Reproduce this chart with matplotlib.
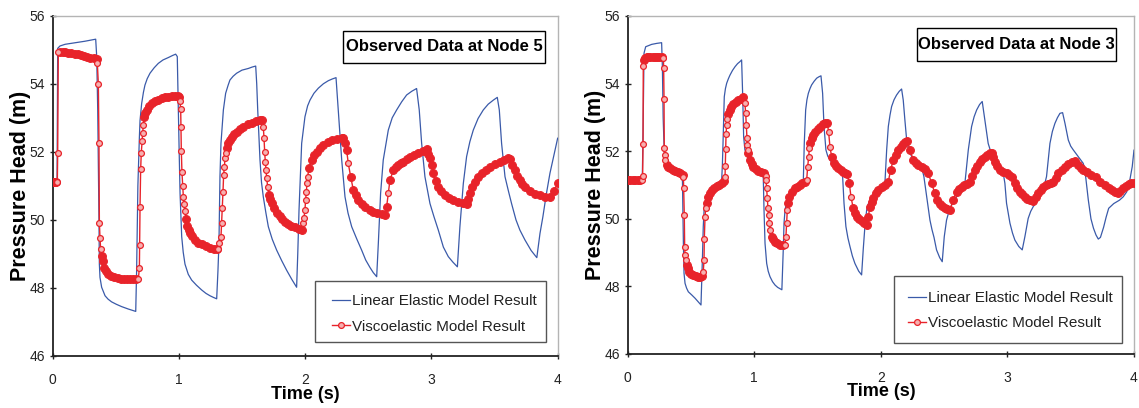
import numpy as np
import matplotlib
matplotlib.use('Agg')
import matplotlib.pyplot as plt
from matplotlib import font_manager
from matplotlib.lines import Line2D
from matplotlib.patches import Rectangle, Shadow

# (time s, head m) pairs for each model run
node5_linear = [
    (0.000, 51.10), (0.036, 51.10), (0.041, 55.04), (0.059, 55.11), (0.100, 55.16), (0.152, 55.19),
    (0.205, 55.22), (0.257, 55.25), (0.300, 55.28), (0.342, 55.31), (0.350, 54.80), (0.358, 53.23),
    (0.368, 50.00), (0.371, 48.70), (0.376, 48.31), (0.389, 48.02), (0.416, 47.77), (0.440, 47.67),
    (0.468, 47.59), (0.505, 47.52), (0.548, 47.45), (0.600, 47.38), (0.659, 47.31), (0.666, 48.50),
    (0.676, 51.00), (0.688, 52.44), (0.693, 52.92), (0.706, 53.42), (0.720, 53.75), (0.732, 53.96),
    (0.750, 54.15), (0.772, 54.31), (0.805, 54.47), (0.838, 54.60), (0.875, 54.70), (0.917, 54.77),
    (0.950, 54.83), (0.975, 54.87), (0.988, 54.80), (0.996, 53.23), (1.003, 52.00), (1.010, 50.78),
    (1.023, 49.51), (1.035, 49.05), (1.049, 48.70), (1.075, 48.40), (1.102, 48.23), (1.140, 48.08),
    (1.181, 47.94), (1.215, 47.84), (1.247, 47.77), (1.275, 47.72), (1.300, 47.68), (1.310, 48.50),
    (1.318, 49.31), (1.326, 51.27), (1.334, 52.25), (1.353, 53.23), (1.371, 53.72), (1.390, 53.95),
    (1.405, 54.11), (1.430, 54.22), (1.458, 54.31), (1.500, 54.40), (1.551, 54.45), (1.580, 54.49),
    (1.609, 54.52), (1.617, 54.00), (1.625, 53.23), (1.643, 51.76), (1.655, 51.10), (1.669, 50.68),
    (1.690, 50.20), (1.709, 49.80), (1.740, 49.43), (1.775, 49.11), (1.815, 48.80), (1.854, 48.52),
    (1.895, 48.25), (1.933, 48.02), (1.942, 49.00), (1.952, 50.29), (1.973, 52.25), (1.999, 53.03),
    (2.020, 53.35), (2.039, 53.52), (2.070, 53.72), (2.105, 53.87), (2.145, 54.00), (2.184, 54.09),
    (2.215, 54.14), (2.245, 54.18), (2.263, 53.23), (2.290, 51.76), (2.316, 50.68), (2.340, 50.20),
    (2.369, 49.80), (2.408, 49.45), (2.448, 49.11), (2.480, 48.82), (2.514, 48.60), (2.540, 48.45),
    (2.567, 48.33), (2.580, 49.31), (2.598, 50.78), (2.619, 51.76), (2.659, 52.64), (2.690, 53.00),
    (2.725, 53.23), (2.765, 53.47), (2.804, 53.67), (2.845, 53.78), (2.883, 53.86), (2.904, 53.23),
    (2.923, 52.25), (2.949, 51.27), (2.989, 50.48), (3.020, 50.10), (3.055, 49.70), (3.095, 49.20),
    (3.134, 48.92), (3.170, 48.76), (3.206, 48.62), (3.226, 49.80), (3.253, 51.07), (3.279, 51.86),
    (3.305, 52.30), (3.332, 52.64), (3.370, 52.98), (3.411, 53.23), (3.450, 53.40), (3.491, 53.52),
    (3.522, 53.60), (3.538, 53.23), (3.556, 52.25), (3.583, 51.27), (3.610, 50.85), (3.635, 50.48),
    (3.670, 50.00), (3.701, 49.70), (3.741, 49.41), (3.790, 49.10), (3.835, 48.89), (3.860, 49.60),
    (3.883, 50.09), (3.910, 50.75), (3.939, 51.37), (3.970, 51.90), (4.000, 52.40),
]

node5_visco = [
    (0.000, 51.10), (0.010, 51.10), (0.020, 51.10), (0.030, 51.10), (0.038, 51.10), (0.041, 51.96),
    (0.046, 54.94), (0.060, 54.94), (0.080, 54.93), (0.100, 54.92), (0.125, 54.91), (0.150, 54.90),
    (0.175, 54.88), (0.200, 54.86), (0.225, 54.85), (0.250, 54.83), (0.275, 54.80), (0.300, 54.77),
    (0.325, 54.75), (0.350, 54.72), (0.355, 54.60), (0.363, 53.99), (0.368, 52.25), (0.371, 49.92),
    (0.376, 49.48), (0.381, 49.15), (0.389, 48.95), (0.397, 48.80), (0.410, 48.60), (0.425, 48.50),
    (0.442, 48.41), (0.465, 48.35), (0.490, 48.31), (0.515, 48.29), (0.540, 48.27), (0.565, 48.26),
    (0.590, 48.26), (0.615, 48.25), (0.640, 48.25), (0.660, 48.25), (0.680, 48.26), (0.688, 48.60),
    (0.690, 49.27), (0.693, 50.38), (0.698, 51.49), (0.703, 51.97), (0.709, 52.31), (0.714, 52.55),
    (0.719, 52.79), (0.727, 53.01), (0.735, 53.13), (0.746, 53.23), (0.765, 53.34), (0.785, 53.42),
    (0.810, 53.48), (0.835, 53.53), (0.864, 53.57), (0.890, 53.60), (0.915, 53.62), (0.943, 53.64),
    (0.970, 53.64), (0.990, 53.63), (1.004, 53.60), (1.009, 53.50), (1.015, 53.25), (1.017, 52.72),
    (1.020, 52.03), (1.025, 51.40), (1.031, 51.00), (1.036, 50.68), (1.041, 50.47), (1.049, 50.25),
    (1.057, 50.02), (1.067, 49.82), (1.078, 49.70), (1.089, 49.61), (1.105, 49.52), (1.128, 49.41),
    (1.155, 49.33), (1.181, 49.28), (1.215, 49.22), (1.247, 49.18), (1.275, 49.15), (1.300, 49.13),
    (1.313, 49.13), (1.318, 49.31), (1.334, 49.50), (1.339, 49.90), (1.345, 50.34), (1.350, 50.83),
    (1.355, 51.32), (1.361, 51.56), (1.366, 51.81), (1.371, 51.96), (1.379, 52.10), (1.392, 52.25),
    (1.405, 52.35), (1.418, 52.44), (1.438, 52.52), (1.458, 52.59), (1.485, 52.67), (1.511, 52.74),
    (1.545, 52.81), (1.577, 52.86), (1.610, 52.90), (1.643, 52.94), (1.656, 52.94), (1.669, 52.74),
    (1.675, 52.40), (1.680, 52.00), (1.685, 51.71), (1.691, 51.47), (1.696, 51.22), (1.704, 50.97),
    (1.714, 50.73), (1.725, 50.60), (1.735, 50.49), (1.755, 50.34), (1.775, 50.21), (1.800, 50.10),
    (1.820, 50.02), (1.841, 49.95), (1.865, 49.87), (1.890, 49.81), (1.920, 49.78), (1.950, 49.74),
    (1.978, 49.70), (1.986, 49.90), (1.991, 50.05), (1.999, 50.29), (2.004, 50.58), (2.010, 50.83),
    (2.015, 51.07), (2.020, 51.27), (2.031, 51.51), (2.052, 51.76), (2.072, 51.90), (2.092, 52.00),
    (2.118, 52.11), (2.145, 52.20), (2.178, 52.28), (2.210, 52.35), (2.250, 52.39), (2.289, 52.42),
    (2.303, 52.42), (2.316, 52.25), (2.329, 52.05), (2.342, 51.66), (2.361, 51.27), (2.382, 50.88),
    (2.400, 50.74), (2.421, 50.58), (2.447, 50.48), (2.474, 50.39), (2.514, 50.29), (2.540, 50.24),
    (2.570, 50.20), (2.606, 50.17), (2.633, 50.14), (2.646, 50.39), (2.659, 50.78), (2.672, 51.17),
    (2.699, 51.46), (2.720, 51.55), (2.738, 51.61), (2.758, 51.66), (2.778, 51.71), (2.805, 51.79),
    (2.831, 51.86), (2.865, 51.92), (2.897, 51.97), (2.930, 52.02), (2.962, 52.07), (2.975, 51.95),
    (2.989, 51.81), (3.002, 51.60), (3.015, 51.37), (3.035, 51.15), (3.055, 50.98), (3.080, 50.85),
    (3.108, 50.73), (3.140, 50.65), (3.173, 50.58), (3.213, 50.53), (3.253, 50.49), (3.279, 50.47),
    (3.292, 50.62), (3.306, 50.78), (3.325, 50.97), (3.345, 51.12), (3.370, 51.27), (3.398, 51.37),
    (3.430, 51.47), (3.464, 51.56), (3.500, 51.64), (3.543, 51.71), (3.575, 51.76), (3.609, 51.81),
    (3.622, 51.79), (3.642, 51.62), (3.662, 51.46), (3.680, 51.30), (3.701, 51.17), (3.720, 51.06),
    (3.741, 50.98), (3.780, 50.85), (3.820, 50.77), (3.860, 50.72), (3.900, 50.68), (3.940, 50.66),
    (3.970, 50.85), (4.000, 51.07),
]

node3_linear = [
    (0.000, 51.15), (0.115, 51.15), (0.121, 52.50), (0.129, 54.90), (0.142, 55.09), (0.189, 55.16),
    (0.230, 55.19), (0.268, 55.21), (0.274, 54.50), (0.280, 53.00), (0.289, 51.94), (0.308, 51.64),
    (0.340, 51.52), (0.374, 51.44), (0.400, 51.40), (0.426, 51.35), (0.432, 51.25), (0.440, 49.27),
    (0.445, 48.39), (0.453, 48.09), (0.465, 47.95), (0.479, 47.84), (0.505, 47.75), (0.532, 47.65),
    (0.555, 47.55), (0.579, 47.45), (0.590, 48.78), (0.597, 49.77), (0.605, 50.36), (0.614, 50.52),
    (0.624, 50.65), (0.642, 50.79), (0.663, 50.90), (0.690, 50.98), (0.716, 51.03), (0.742, 51.10),
    (0.748, 51.60), (0.753, 52.23), (0.763, 53.61), (0.772, 53.85), (0.782, 54.01), (0.795, 54.14),
    (0.808, 54.25), (0.828, 54.39), (0.848, 54.50), (0.868, 54.59), (0.887, 54.65), (0.900, 54.70),
    (0.908, 53.71), (0.916, 52.43), (0.926, 52.04), (0.940, 51.90), (0.953, 51.79), (0.980, 51.65),
    (1.005, 51.54), (1.030, 51.46), (1.058, 51.39), (1.071, 51.25), (1.077, 50.26), (1.085, 49.27),
    (1.098, 48.68), (1.110, 48.45), (1.124, 48.29), (1.144, 48.14), (1.164, 48.04), (1.185, 47.97),
    (1.203, 47.93), (1.218, 47.90), (1.229, 49.08), (1.235, 49.87), (1.243, 50.26), (1.255, 50.48),
    (1.269, 50.65), (1.288, 50.77), (1.308, 50.85), (1.335, 50.92), (1.361, 50.97), (1.387, 51.05),
    (1.395, 52.23), (1.406, 53.22), (1.416, 53.52), (1.427, 53.71), (1.440, 53.85), (1.453, 53.96),
    (1.473, 54.07), (1.493, 54.16), (1.510, 54.20), (1.527, 54.23), (1.540, 53.71), (1.551, 52.73),
    (1.566, 52.04), (1.580, 51.86), (1.598, 51.74), (1.625, 51.63), (1.651, 51.54), (1.690, 51.44),
    (1.698, 51.25), (1.709, 50.46), (1.724, 49.77), (1.740, 49.43), (1.756, 49.18), (1.775, 48.90),
    (1.795, 48.68), (1.825, 48.45), (1.848, 48.34), (1.861, 49.10), (1.874, 49.77), (1.888, 50.26),
    (1.900, 50.43), (1.914, 50.56), (1.933, 50.69), (1.953, 50.80), (1.980, 50.88), (2.006, 50.95),
    (2.032, 51.05), (2.046, 52.04), (2.059, 52.73), (2.072, 53.06), (2.085, 53.32), (2.104, 53.52),
    (2.124, 53.66), (2.145, 53.77), (2.164, 53.84), (2.177, 53.51), (2.190, 52.92), (2.204, 52.33),
    (2.216, 52.10), (2.230, 51.94), (2.256, 51.76), (2.283, 51.64), (2.322, 51.54), (2.340, 51.25),
    (2.362, 50.65), (2.388, 49.96), (2.404, 49.68), (2.420, 49.45), (2.440, 49.08), (2.465, 48.85),
    (2.485, 48.73), (2.501, 49.47), (2.519, 49.96), (2.538, 50.22), (2.559, 50.41), (2.578, 50.54),
    (2.598, 50.65), (2.618, 50.76), (2.638, 50.85), (2.664, 51.05), (2.691, 52.04), (2.717, 52.73),
    (2.737, 53.02), (2.757, 53.22), (2.780, 53.38), (2.801, 53.47), (2.822, 52.92), (2.848, 52.23),
    (2.868, 51.99), (2.888, 51.84), (2.915, 51.70), (2.941, 51.59), (2.967, 51.35), (2.980, 51.05),
    (2.993, 50.46), (3.020, 49.87), (3.040, 49.58), (3.059, 49.37), (3.090, 49.18), (3.117, 49.08),
    (3.138, 49.47), (3.164, 50.01), (3.184, 50.22), (3.204, 50.36), (3.243, 50.56), (3.283, 50.85),
    (3.309, 51.25), (3.336, 52.23), (3.355, 52.58), (3.375, 52.82), (3.395, 52.99), (3.415, 53.12),
    (3.436, 53.14), (3.455, 52.82), (3.481, 52.33), (3.500, 52.15), (3.520, 52.04), (3.560, 51.84),
    (3.599, 51.64), (3.612, 51.45), (3.639, 50.56), (3.660, 50.00), (3.680, 49.72), (3.700, 49.52),
    (3.718, 49.40), (3.735, 49.45), (3.760, 49.75), (3.780, 50.05), (3.800, 50.31), (3.840, 50.45),
    (3.885, 50.55), (3.915, 50.65), (3.943, 50.80), (3.965, 51.10), (3.986, 51.54), (4.000, 52.03),
]

node3_visco = [
    (0.000, 51.15), (0.020, 51.15), (0.040, 51.15), (0.060, 51.15), (0.080, 51.15), (0.100, 51.15),
    (0.116, 51.15), (0.118, 51.27), (0.121, 52.21), (0.123, 54.52), (0.129, 54.70), (0.137, 54.75),
    (0.150, 54.78), (0.163, 54.80), (0.180, 54.80), (0.200, 54.80), (0.216, 54.80), (0.235, 54.80),
    (0.250, 54.79), (0.268, 54.78), (0.282, 54.75), (0.284, 54.47), (0.287, 53.53), (0.289, 52.08),
    (0.292, 51.89), (0.295, 51.74), (0.308, 51.59), (0.320, 51.54), (0.334, 51.49), (0.354, 51.45),
    (0.374, 51.41), (0.394, 51.38), (0.413, 51.36), (0.434, 51.30), (0.440, 51.25), (0.442, 50.90),
    (0.447, 50.11), (0.450, 49.18), (0.453, 48.93), (0.458, 48.78), (0.466, 48.63), (0.475, 48.53),
    (0.484, 48.44), (0.500, 48.38), (0.518, 48.34), (0.538, 48.31), (0.558, 48.29), (0.575, 48.29),
    (0.590, 48.31), (0.597, 48.44), (0.603, 48.78), (0.605, 49.39), (0.611, 50.06), (0.616, 50.31),
    (0.624, 50.46), (0.637, 50.65), (0.650, 50.76), (0.663, 50.85), (0.683, 50.92), (0.703, 50.97),
    (0.722, 51.01), (0.742, 51.05), (0.763, 51.13), (0.769, 51.25), (0.771, 51.56), (0.774, 52.06),
    (0.777, 52.51), (0.782, 52.78), (0.787, 52.94), (0.795, 53.10), (0.808, 53.22), (0.820, 53.31),
    (0.834, 53.39), (0.854, 53.45), (0.874, 53.51), (0.893, 53.55), (0.913, 53.59), (0.926, 53.42),
    (0.932, 53.12), (0.937, 52.78), (0.942, 52.38), (0.945, 52.18), (0.948, 52.04), (0.953, 51.94),
    (0.966, 51.74), (0.980, 51.62), (0.992, 51.54), (1.012, 51.47), (1.032, 51.42), (1.055, 51.39),
    (1.079, 51.36), (1.090, 51.27), (1.093, 51.15), (1.098, 50.90), (1.103, 50.61), (1.108, 50.31),
    (1.113, 50.11), (1.119, 49.87), (1.124, 49.67), (1.137, 49.47), (1.150, 49.39), (1.164, 49.32),
    (1.183, 49.27), (1.203, 49.22), (1.225, 49.21), (1.243, 49.22), (1.250, 49.47), (1.256, 49.87),
    (1.261, 50.26), (1.269, 50.46), (1.277, 50.65), (1.295, 50.80), (1.322, 50.90), (1.341, 50.95),
    (1.361, 51.00), (1.380, 51.05), (1.400, 51.10), (1.414, 51.15), (1.422, 51.54), (1.430, 51.84),
    (1.435, 52.08), (1.443, 52.23), (1.453, 52.38), (1.466, 52.48), (1.480, 52.58), (1.500, 52.66),
    (1.519, 52.73), (1.540, 52.79), (1.559, 52.84), (1.577, 52.82), (1.587, 52.58), (1.598, 52.13),
    (1.611, 51.84), (1.630, 51.64), (1.647, 51.55), (1.664, 51.49), (1.684, 51.44), (1.704, 51.39),
    (1.720, 51.36), (1.735, 51.32), (1.751, 51.05), (1.764, 50.65), (1.782, 50.31), (1.795, 50.18),
    (1.809, 50.06), (1.828, 49.99), (1.848, 49.92), (1.868, 49.87), (1.888, 49.82), (1.901, 50.06),
    (1.914, 50.36), (1.927, 50.50), (1.940, 50.61), (1.960, 50.75), (1.980, 50.85), (2.006, 50.93),
    (2.032, 51.00), (2.059, 51.10), (2.077, 51.44), (2.098, 51.74), (2.118, 51.90), (2.138, 52.04),
    (2.158, 52.13), (2.177, 52.20), (2.193, 52.26), (2.209, 52.31), (2.230, 52.04), (2.256, 51.74),
    (2.276, 51.65), (2.296, 51.59), (2.322, 51.52), (2.348, 51.46), (2.375, 51.35), (2.401, 51.05),
    (2.427, 50.75), (2.447, 50.55), (2.467, 50.45), (2.486, 50.38), (2.506, 50.32), (2.526, 50.28),
    (2.546, 50.26), (2.572, 50.56), (2.598, 50.80), (2.618, 50.88), (2.638, 50.95), (2.658, 51.00),
    (2.678, 51.03), (2.704, 51.10), (2.723, 51.27), (2.743, 51.44), (2.763, 51.57), (2.783, 51.69),
    (2.802, 51.77), (2.822, 51.84), (2.842, 51.90), (2.862, 51.94), (2.875, 51.96), (2.888, 51.83),
    (2.901, 51.69), (2.921, 51.56), (2.941, 51.44), (2.967, 51.39), (2.993, 51.35), (3.013, 51.30),
    (3.033, 51.25), (3.059, 51.05), (3.079, 50.92), (3.099, 50.80), (3.118, 50.72), (3.138, 50.65),
    (3.158, 50.60), (3.178, 50.56), (3.204, 50.54), (3.223, 50.65), (3.243, 50.75), (3.263, 50.86),
    (3.283, 50.95), (3.303, 51.00), (3.323, 51.03), (3.343, 51.06), (3.362, 51.10), (3.382, 51.22),
    (3.401, 51.35), (3.428, 51.45), (3.454, 51.54), (3.480, 51.62), (3.507, 51.69), (3.533, 51.72),
    (3.559, 51.59), (3.579, 51.50), (3.599, 51.44), (3.626, 51.39), (3.660, 51.30), (3.698, 51.24),
    (3.735, 51.10), (3.770, 50.99), (3.800, 50.91), (3.828, 50.85), (3.850, 50.80), (3.871, 50.77),
    (3.893, 50.83), (3.914, 50.90), (3.935, 50.96), (3.957, 51.02), (3.980, 51.05), (4.000, 51.06),
]

titles = ['Observed Data at Node 5', 'Observed Data at Node 3']
series_names = ['Linear Elastic Model Result', 'Viscoelastic Model Result']
x_ticks = [0, 1, 2, 3, 4]
y_ticks = [46, 48, 50, 52, 54, 56]

# narrow Arial-like face if present, otherwise the regular one
installed = {f.name for f in font_manager.fontManager.ttflist}
narrow = 'Liberation Sans Narrow' in installed
face = 'Liberation Sans Narrow' if narrow else 'Liberation Sans'
plt.rcParams['font.family'] = [face, 'DejaVu Sans']
fs_tick, fs_leg, fs_title = (11, 13.5, 14) if narrow else (10, 11, 12)

BLUE = '#3a5aa9'
RED = '#e8232a'
PINK = '#f6b0b0'
DARK = '#222222'

fig = plt.figure(figsize=(11.39, 4.08), dpi=100)
ax_l = fig.add_axes([0.0461, 0.1275, 0.4435, 0.8340])
ax_r = fig.add_axes([0.5511, 0.1324, 0.4445, 0.8284])


def framed_box(ax, x0, y0, x1, y1, edge, shadow_col, lw):
    rect = Rectangle((x0, y0), x1 - x0, y1 - y0, transform=ax.transAxes,
                     facecolor='white', edgecolor=edge, lw=lw, zorder=6, clip_on=False)
    shade = Shadow(rect, 2, -2, facecolor=shadow_col, edgecolor='none', alpha=1, zorder=5)
    shade.set_clip_on(False)
    ax.add_patch(shade)
    ax.add_patch(rect)


def panel(ax, linear, visco, title, title_box, leg_box, handle_x, leg_y):
    lt, lh = np.array(linear).T
    vt, vh = np.array(visco).T
    ax.plot(lt, lh, color=BLUE, lw=0.9, zorder=3)

    # slowly varying stretches pile their markers into a solid band,
    # the fast transients show separate open circles
    steep = np.abs(np.gradient(vh, vt)) > 25
    ax.plot(vt, vh, color=RED, lw=1.0, zorder=4)
    ax.plot(vt[~steep], vh[~steep], ls='none', marker='o', ms=5.6, mfc=RED, mec=RED,
            mew=0.8, zorder=4)
    ax.plot(vt[steep], vh[steep], ls='none', marker='o', ms=4.2, mfc=PINK, mec=RED,
            mew=0.9, zorder=5)

    ax.set_xlim(0, 4)
    ax.set_ylim(46, 56)
    ax.set_xticks(x_ticks)
    ax.set_yticks(y_ticks)
    ax.tick_params(axis='both', direction='inout', length=5, width=1, colors=DARK,
                   labelsize=fs_tick)
    ax.tick_params(axis='y', pad=3)
    ax.tick_params(axis='x', pad=9.5)
    for side in ('left', 'bottom'):
        ax.spines[side].set_color(DARK)
        ax.spines[side].set_linewidth(1.3)
    for side in ('top', 'right'):
        ax.spines[side].set_color('#b4b4b4')
        ax.spines[side].set_linewidth(1.0)

    ax.set_xlabel('Time (s)', fontsize=13, fontweight='bold',
                  family=['Liberation Sans', 'DejaVu Sans'])
    ax.xaxis.label.set_va('center')
    ax.xaxis.set_label_coords(0.5, -0.112)
    ax.set_ylabel('Pressure Head (m)', fontsize=15.5, fontweight='bold',
                  family=['Liberation Sans', 'DejaVu Sans'])
    ax.yaxis.label.set_va('center')
    ax.yaxis.set_label_coords(-0.064, 0.5)

    # title box with hard black drop shadow
    x0, y0, x1, y1 = title_box
    framed_box(ax, x0, y0, x1, y1, 'black', 'black', 1.0)
    ax.text((x0 + x1) / 2, (y0 + y1) / 2, title, transform=ax.transAxes, ha='center',
            va='center', fontsize=fs_title, fontweight='bold', color='black', zorder=7)

    # legend frame drawn separately so it can be sized freely
    handles = [Line2D([], [], color=BLUE, lw=0.9),
               Line2D([], [], color=RED, lw=1.0, marker='o', ms=4.2, mfc=PINK, mec=RED, mew=0.9)]
    x0, y0, x1, y1 = leg_box
    framed_box(ax, x0, y0, x1, y1, '#555555', '#8a8a8a', 1.0)
    leg = ax.legend(handles, series_names, loc='center left', bbox_to_anchor=(handle_x, leg_y),
                    frameon=False, borderpad=0, borderaxespad=0, handlelength=1.15,
                    handletextpad=0.15, labelspacing=0.75, fontsize=fs_leg)
    leg.set_zorder(8)
    for txt in leg.get_texts():
        txt.set_color(DARK)


panel(ax_l, node5_linear, node5_visco, titles[0],
      (0.575, 0.861, 0.975, 0.956), (0.5196, 0.0411, 0.9769, 0.2204), 0.5533, 0.1234)
panel(ax_r, node3_linear, node3_visco, titles[1],
      (0.5714, 0.8678, 0.9645, 0.9645), (0.526, 0.0325, 0.976, 0.2317), 0.5538, 0.128)

fig.savefig('out.png', dpi=100)
